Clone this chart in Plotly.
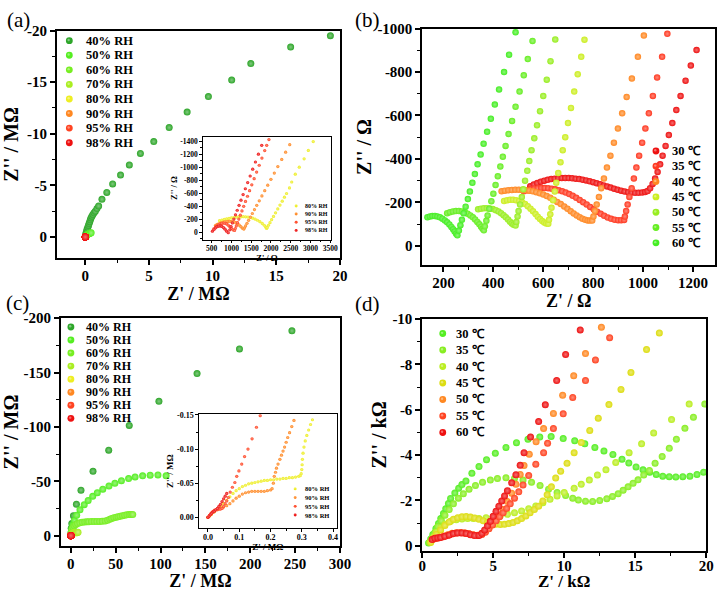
import plotly.graph_objects as go

SERIF = "Liberation Serif"
W, H = 727, 591

# ---------------- DATA ----------------
# Panel (a): Nyquist, MOhm
rh_labels = ["40% RH", "50% RH", "60% RH", "70% RH", "80% RH", "90% RH", "95% RH", "98% RH"]
rh_colors = ["#2ea62a", "#55ee22", "#77ee22", "#aaee22", "#eeee22", "#ff8822", "#ff4422", "#ee1111"]

a40_x = [0.0, 0.03, 0.07, 0.11, 0.15, 0.2, 0.25, 0.3, 0.35, 0.4, 0.45, 0.52, 0.6, 0.69, 0.79, 0.92, 1.05, 1.31, 1.69, 2.15, 2.77, 3.46, 4.33, 5.38, 6.59, 8.0, 9.67, 11.5, 13.0, 16.13, 19.25]
a40_y = [-0.08, -0.25, -0.42, -0.6, -0.78, -0.95, -1.12, -1.3, -1.48, -1.66, -1.85, -2.02, -2.18, -2.34, -2.5, -2.75, -3.0, -3.65, -4.32, -5.14, -6.0, -6.98, -8.1, -9.24, -10.6, -12.1, -13.6, -15.2, -16.8, -18.4, -19.5]
a50_x = [0.0, 0.03, 0.07, 0.12, 0.17, 0.22, 0.27, 0.32, 0.37, 0.42, 0.46]
a50_y = [-0.02, -0.08, -0.14, -0.2, -0.25, -0.29, -0.32, -0.35, -0.37, -0.39, -0.4]
a60_x = [0.0, 0.01, 0.02, 0.04, 0.06, 0.08]
a60_y = [0.0, -0.02, -0.04, -0.05, -0.06, -0.06]
a70_x = [0.0, 0.002, 0.005, 0.008]
a70_y = [0.0, -0.002, -0.003, -0.003]

# Inset of (a): Ohm
ia80_x = [700, 760, 820, 880, 940, 1000, 1060, 1120, 1180, 1240, 1300, 1360, 1420, 1480, 1540, 1600, 1660, 1720, 1780, 1830, 1870, 1890,
          1905, 1937, 1975, 2017, 2064, 2116, 2172, 2228, 2285, 2341, 2394, 2468, 2525, 2615, 2715, 2838, 2944, 3068]
ia80_y = [-180, -190, -200, -208, -215, -222, -228, -233, -237, -240, -241, -240, -236, -229, -219, -205, -187, -165, -138, -110, -80, -60,
          -75, -110, -150, -195, -245, -300, -360, -420, -480, -540, -597, -683, -773, -894, -1000, -1129, -1258, -1393]
ia90_x = [600, 640, 680, 720, 760, 800, 840, 880, 920, 960, 1000, 1040, 1080, 1120, 1160, 1200, 1240, 1280, 1315,
          1332, 1359, 1395, 1435, 1480, 1529, 1583, 1641, 1704, 1771, 1843, 1919, 1999, 2085, 2174, 2273, 2371, 2475]
ia90_y = [-110, -122, -133, -143, -151, -158, -163, -167, -169, -170, -168, -164, -157, -146, -131, -112, -88, -65, -51,
          -70, -100, -140, -185, -235, -290, -350, -415, -485, -560, -640, -725, -815, -910, -1010, -1120, -1230, -1345]
ia95_x = [560, 600, 640, 680, 720, 760, 800, 840, 880, 920, 960, 1000, 1040, 1080,
          1099, 1124, 1155, 1189, 1226, 1267, 1311, 1357, 1407, 1460, 1516, 1575, 1638, 1703, 1772, 1843, 1893, 1949]
ia95_y = [-60, -85, -105, -120, -132, -140, -143, -140, -130, -112, -88, -62, -40, -30,
          -60, -100, -150, -205, -265, -330, -400, -475, -555, -640, -730, -825, -925, -1030, -1140, -1255, -1335, -1424]
ia98_x = [520, 560, 600, 640, 680, 720, 760, 800, 840, 880, 920,
          960, 991, 1025, 1063, 1103, 1147, 1194, 1243, 1296, 1352, 1412, 1474, 1539, 1608, 1683, 1767]
ia98_y = [-20, -45, -70, -88, -98, -100, -92, -75, -50, -20, 5,
          -40, -90, -145, -205, -270, -340, -415, -495, -580, -670, -765, -865, -970, -1080, -1200, -1335]

# Panel (b): temperature series, Ohm
tb_labels = ["30 \u2103", "35 \u2103", "40 \u2103", "45 \u2103", "50 \u2103", "55 \u2103", "60 \u2103"]
tb_colors = ["#ee1111", "#ff3a22", "#ff8822", "#ccee22", "#99ee22", "#66ee22", "#44ee22"]

b30_x = [548, 562, 576, 590, 604, 618, 632, 646, 660, 674, 688, 702, 716, 730, 744, 758, 772, 786, 800, 814, 828, 842, 856, 870, 884, 898,
         912, 926, 940, 954, 968, 982, 996, 1008, 1018, 1028, 1038, 1048, 1058, 1068, 1078, 1090, 1103, 1117, 1133, 1150, 1170, 1191, 1214]
b30_y = [-274, -282, -289, -295, -300, -304, -307, -309, -311, -312, -312, -312, -311, -309, -307, -304, -301, -297, -293, -288, -283, -278,
         -273, -268, -263, -258, -254, -250, -247, -245, -244, -244, -245, -248, -252, -265, -285, -310, -340, -375, -415, -460, -510, -565,
         -625, -690, -760, -830, -901]
b35_x = [522, 536, 550, 564, 578, 592, 606, 620, 634, 648, 662, 676, 690, 704, 718, 732, 746, 760, 774, 788, 802, 816, 830, 844, 858, 872,
         886, 900, 912, 924, 927, 932, 938, 945, 954, 963, 973, 984, 996, 1009, 1023, 1039, 1056, 1076, 1097]
b35_y = [-251, -256, -260, -263, -265, -266, -266, -265, -263, -260, -256, -251, -245, -238, -230, -221, -211, -201, -190, -179, -168, -157,
         -147, -138, -130, -124, -120, -118, -118, -119, -135, -160, -190, -225, -265, -310, -360, -415, -475, -540, -610, -690, -775, -870, -976]
b40_x = [433, 446, 460, 474, 488, 502, 516, 530, 544, 558, 572, 586, 600, 614, 628, 642, 656, 670, 684, 697, 710, 722, 734, 746, 757, 768,
         778, 787, 796, 801, 807, 814, 823, 832, 843, 855, 869, 883, 899, 916, 934, 955, 979, 1003]
b40_y = [-251, -254, -256, -257, -258, -258, -257, -256, -254, -251, -247, -242, -236, -229, -221, -212, -202, -192, -181, -170, -159, -149,
         -140, -132, -125, -120, -117, -116, -116, -135, -160, -190, -225, -265, -310, -360, -415, -475, -540, -610, -685, -770, -870, -968]
b45_x = [443, 455, 467, 479, 491, 503, 515, 527, 538, 549, 559, 569, 578, 587, 596, 604, 612, 620,
         623, 628, 633, 639, 646, 652, 660, 669, 678, 688, 699, 711, 724, 738, 752, 765]
b45_y = [-206, -210, -212, -212, -210, -206, -200, -192, -182, -171, -159, -146, -134, -123, -114, -107, -103, -101,
         -120, -145, -175, -210, -250, -290, -335, -385, -440, -500, -565, -635, -710, -790, -870, -949]
b50_x = [339, 350, 362, 374, 386, 398, 410, 421, 431, 441, 450, 459, 467, 474, 481, 489,
         492, 497, 501, 507, 514, 520, 527, 536, 544, 553, 564, 575, 587, 600, 614, 629, 648]
b50_y = [-168, -171, -173, -173, -172, -169, -164, -158, -150, -141, -131, -121, -111, -103, -97, -93,
         -110, -135, -160, -190, -225, -260, -300, -345, -390, -440, -495, -555, -620, -690, -765, -850, -950]
b55_x = [215, 226, 238, 250, 262, 274, 286, 297, 308, 318, 327, 336, 344, 351, 357, 362,
         366, 372, 377, 384, 392, 400, 409, 418, 428, 438, 449, 461, 475, 489, 505, 522, 538, 557]
b55_y = [-150, -155, -158, -160, -160, -158, -154, -148, -140, -131, -121, -110, -99, -88, -78, -71,
         -90, -115, -140, -170, -205, -240, -280, -320, -365, -410, -460, -515, -575, -640, -710, -785, -860, -943]
b60_x = [136, 146, 156, 166, 176, 186, 196, 206, 215, 224, 232, 239, 245, 251, 256,
         262, 268, 274, 281, 289, 298, 306, 316, 326, 337, 349, 361, 375, 390, 406, 423, 443, 463, 489]
b60_y = [-131, -135, -137, -137, -135, -131, -125, -117, -108, -98, -87, -76, -66, -56, -48,
         -70, -95, -120, -150, -180, -215, -250, -290, -330, -375, -420, -470, -525, -585, -650, -720, -800, -880, -983]

# Panel (c): MOhm
c40_x = [0.0, 0.1, 0.4, 1.1, 2.9, 6.2, 11.3, 24.7, 42.2, 65.1, 98.2, 140.7, 188.0, 246.5]
c40_y = [0.0, -2.5, -6.9, -11.1, -18.3, -28.9, -41.8, -59.2, -78.6, -101.4, -123.5, -149.0, -171.7, -188.3]
c50_x = [0.0, 0.5, 1.2, 2.3, 4.0, 6.5, 10.2, 14.9, 19.3, 24.4, 29.5, 35.6, 42.5, 49.1, 56.4, 64.4, 71.6, 80.0, 88.4, 97.1, 106.2]
c50_y = [0.0, -3.0, -6.5, -10.0, -14.0, -18.8, -23.8, -28.5, -32.4, -36.2, -39.5, -42.7, -45.6, -48.2, -50.5, -52.5, -54.0, -55.0, -55.6, -55.9, -55.0]
c60_x = [0.0, 0.3, 0.8, 1.5, 2.5, 3.8, 5.5, 7.5, 10.0, 12.7, 15.5, 18.0, 20.0, 23.0, 26.0, 29.0, 32.0, 35.0, 38.2, 41.0, 43.5, 45.5,
         48.0, 50.5, 52.7, 55.0, 57.5, 60.0, 62.5, 65.0, 67.0, 69.0]
c60_y = [0.0, -2.0, -4.0, -6.0, -7.8, -9.2, -10.3, -11.2, -11.8, -12.3, -12.6, -12.8, -12.9, -13.0, -13.0, -13.0, -13.1, -13.2, -13.5,
         -14.2, -15.0, -15.9, -16.6, -17.0, -17.4, -17.9, -18.4, -18.9, -19.2, -19.4, -19.5, -19.5]
c70_x = [0.0, 0.5, 1.2, 2.0, 3.0, 4.0, 5.0, 6.0, 7.0, 8.0]
c70_y = [0.0, -0.8, -1.6, -2.2, -2.6, -2.8, -2.8, -2.7, -2.8, -3.2]

# Inset of (c): MOhm
ic80_x = [0.0, 0.005, 0.01, 0.02, 0.03, 0.04, 0.05, 0.06, 0.07, 0.08, 0.09, 0.1, 0.11, 0.12, 0.13, 0.14, 0.15, 0.16, 0.17, 0.18, 0.19,
          0.2, 0.21, 0.22, 0.23, 0.24, 0.25, 0.26, 0.27, 0.28, 0.29, 0.295, 0.298, 0.3, 0.301, 0.302, 0.304, 0.307, 0.311, 0.316, 0.322,
          0.328, 0.334]
ic80_y = [0.0, -0.002, -0.004, -0.008, -0.012, -0.016, -0.02, -0.025, -0.03, -0.035, -0.039, -0.042, -0.045, -0.047, -0.049, -0.05,
          -0.051, -0.052, -0.053, -0.054, -0.054, -0.055, -0.055, -0.056, -0.056, -0.057, -0.057, -0.058, -0.058, -0.059, -0.06, -0.061,
          -0.064, -0.07, -0.077, -0.085, -0.094, -0.103, -0.112, -0.12, -0.128, -0.136, -0.143]
ic90_x = [0.0, 0.01, 0.02, 0.03, 0.04, 0.05, 0.06, 0.07, 0.08, 0.09, 0.1, 0.11, 0.12, 0.13, 0.14, 0.15, 0.16, 0.17, 0.18, 0.19, 0.2,
          0.205, 0.209, 0.212, 0.216, 0.219, 0.224, 0.23, 0.235, 0.24, 0.245, 0.25, 0.255, 0.261, 0.268, 0.275]
ic90_y = [0.0, -0.004, -0.008, -0.011, -0.013, -0.015, -0.017, -0.02, -0.024, -0.028, -0.031, -0.034, -0.036, -0.037, -0.038, -0.038,
          -0.038, -0.038, -0.038, -0.039, -0.04, -0.042, -0.05, -0.06, -0.066, -0.072, -0.078, -0.085, -0.091, -0.097, -0.103, -0.11,
          -0.117, -0.124, -0.133, -0.142]
ic95_x = [0.0, 0.005, 0.01, 0.015, 0.02, 0.025, 0.03, 0.035, 0.04, 0.045, 0.05, 0.055, 0.06, 0.065, 0.071, 0.078, 0.086, 0.092,
          0.099, 0.108, 0.117, 0.128, 0.141, 0.155, 0.167]
ic95_y = [0.0, -0.003, -0.006, -0.008, -0.01, -0.011, -0.012, -0.012, -0.012, -0.013, -0.016, -0.02, -0.024, -0.029, -0.037, -0.044,
          -0.051, -0.06, -0.068, -0.078, -0.089, -0.1, -0.115, -0.132, -0.149]
ic98_x = [0.0, 0.004, 0.008, 0.012, 0.016, 0.02, 0.025, 0.03, 0.035, 0.04, 0.045, 0.05, 0.055, 0.06]
ic98_y = [0.0, -0.002, -0.004, -0.006, -0.008, -0.009, -0.011, -0.013, -0.016, -0.019, -0.023, -0.027, -0.031, -0.035]

# Panel (d): kOhm
td_labels = ["30 \u2103", "35 \u2103", "40 \u2103", "45 \u2103", "50 \u2103", "55 \u2103", "60 \u2103"]
td_colors = ["#55ee22", "#88ee22", "#bbee22", "#dddd11", "#ff8822", "#ff4422", "#ee1111"]

d30_x = [0.45, 0.6, 0.75, 0.97, 1.15, 1.31, 1.5, 1.66, 1.85, 2.0, 2.3, 2.57, 2.8, 3.08, 3.5, 4.0, 4.53, 5.15, 5.9, 6.64, 7.45, 8.28,
         9.08, 9.93, 10.74, 11.45, 12.16, 12.8, 13.43, 14.07, 14.55, 15.06, 15.55, 16.02, 16.48, 16.94, 17.4, 17.86, 18.35, 18.85, 19.35, 19.82]
d30_y = [-0.12, -0.3, -0.5, -0.76, -0.98, -1.2, -1.42, -1.63, -1.87, -2.09, -2.33, -2.54, -2.7, -2.86, -3.2, -3.5, -3.8, -4.08, -4.34,
         -4.55, -4.7, -4.8, -4.82, -4.73, -4.63, -4.5, -4.34, -4.18, -4.03, -3.82, -3.65, -3.48, -3.35, -3.25, -3.15, -3.07, -3.05, -3.04,
         -3.05, -3.07, -3.15, -3.25]
d35_x = [0.5, 0.7, 0.9, 1.1, 1.35, 1.6, 1.9, 2.2, 2.55, 2.9, 3.3, 3.75, 4.25, 4.8, 5.3, 5.9, 6.5, 7.1, 7.7, 8.3, 8.9, 9.5, 10.1, 10.6,
         11.0, 11.5, 12.0, 12.5, 13.0, 13.4, 13.8, 14.15, 14.5, 14.85, 15.2, 15.6, 16.0, 16.4, 16.9, 17.4, 17.9, 18.5, 19.1, 19.9]
d35_y = [-0.15, -0.35, -0.6, -0.85, -1.1, -1.35, -1.6, -1.85, -2.1, -2.3, -2.5, -2.66, -2.8, -2.9, -2.97, -3.0, -2.97, -2.9, -2.8,
         -2.66, -2.5, -2.35, -2.22, -2.1, -2.02, -1.97, -1.96, -2.0, -2.08, -2.18, -2.3, -2.45, -2.6, -2.76, -2.91, -3.12, -3.32, -3.64,
         -3.94, -4.3, -4.7, -5.18, -5.67, -6.25]
d40_x = [0.6, 0.8, 1.0, 1.3, 1.6, 2.0, 2.4, 2.8, 3.2, 3.6, 4.0, 4.5, 5.0, 5.5, 6.0, 6.5, 7.0, 7.5, 8.0, 8.5, 9.0, 9.5, 10.0, 10.7,
         11.2, 11.77, 12.34, 12.94, 13.63, 14.57, 15.45, 16.3, 17.56, 18.8]
d40_y = [-0.2, -0.4, -0.6, -0.8, -0.95, -1.08, -1.15, -1.18, -1.2, -1.2, -1.21, -1.24, -1.28, -1.33, -1.39, -1.46, -1.54, -1.64,
         -1.76, -1.9, -2.05, -2.2, -2.35, -2.54, -2.71, -2.9, -3.12, -3.36, -3.68, -4.11, -4.5, -4.98, -5.57, -6.25]
d45_x = [0.6, 0.8, 1.0, 1.3, 1.6, 1.9, 2.2, 2.5, 2.8, 3.1, 3.4, 3.7, 4.0, 4.3, 4.6, 4.9, 5.2, 5.5, 5.8, 6.1, 6.4, 6.7, 7.0, 7.3, 7.6,
         7.9, 8.2, 8.5, 8.8, 9.1, 9.4, 9.75, 10.2, 10.7, 11.2, 11.8, 12.4, 13.15, 14.0, 14.7, 15.8, 16.7]
d45_y = [-0.15, -0.3, -0.5, -0.7, -0.9, -1.05, -1.17, -1.24, -1.28, -1.29, -1.27, -1.23, -1.17, -1.1, -1.03, -0.98, -0.95, -0.94,
         -0.95, -0.98, -1.03, -1.1, -1.2, -1.32, -1.46, -1.6, -1.75, -1.98, -2.25, -2.6, -2.99, -3.29, -3.64, -4.11, -4.56, -5.09, -5.63,
         -6.23, -6.9, -7.65, -8.66, -9.39]
d50_x = [0.75, 1.0, 1.25, 1.5, 1.8, 2.1, 2.4, 2.7, 3.0, 3.3, 3.6, 3.9, 4.2, 4.45, 4.7, 4.95, 5.2, 5.45, 5.7, 6.0, 6.3, 6.6, 6.9, 7.17,
         7.54, 8.02, 8.55, 9.24, 9.89, 10.67, 11.5, 12.62]
d50_y = [-0.3, -0.34, -0.38, -0.43, -0.49, -0.55, -0.58, -0.59, -0.57, -0.53, -0.49, -0.47, -0.52, -0.63, -0.78, -0.95, -1.13, -1.35,
         -1.6, -1.95, -2.32, -2.72, -3.15, -3.54, -4.04, -4.59, -5.17, -5.84, -6.64, -7.5, -8.48, -9.64]
d55_x = [0.8, 1.0, 1.2, 1.5, 1.8, 2.1, 2.4, 2.7, 3.0, 3.3, 3.6, 3.9, 4.2, 4.45, 4.7, 4.95, 5.2, 5.45, 5.7, 5.95, 6.2, 6.5, 6.8, 7.1,
         7.5, 8.0, 8.55, 8.83, 9.24, 9.93, 10.6, 11.5, 12.2, 13.2]
d55_y = [-0.3, -0.33, -0.36, -0.4, -0.46, -0.52, -0.56, -0.58, -0.57, -0.53, -0.48, -0.46, -0.5, -0.6, -0.75, -0.92, -1.1, -1.28,
         -1.46, -1.65, -1.85, -2.1, -2.38, -2.68, -3.1, -3.6, -4.11, -4.52, -5.17, -5.82, -6.54, -7.29, -8.2, -9.18]
d60_x = [0.7, 0.9, 1.1, 1.3, 1.6, 1.9, 2.2, 2.5, 2.8, 3.1, 3.4, 3.7, 4.0, 4.2, 4.4, 4.6, 4.8, 5.0, 5.2, 5.4, 5.6, 5.8, 6.0, 6.3,
         6.6, 6.9, 7.17, 7.63, 8.2, 8.67, 9.47, 10.1, 11.13]
d60_y = [-0.28, -0.33, -0.35, -0.37, -0.42, -0.48, -0.54, -0.57, -0.57, -0.54, -0.49, -0.45, -0.46, -0.55, -0.7, -0.88, -1.08, -1.3,
         -1.52, -1.75, -1.98, -2.2, -2.43, -2.78, -3.13, -3.55, -4.11, -4.8, -5.48, -6.22, -7.29, -8.44, -9.52]

# Tick values / labels
a_xt = [0, 5, 10, 15, 20]
a_yt = [0, -5, -10, -15, -20]
b_xt = [200, 400, 600, 800, 1000, 1200]
b_yt = [0, -200, -400, -600, -800, -1000]
c_xt = [0, 50, 100, 150, 200, 250, 300]
c_yt = [0, -50, -100, -150, -200]
d_xt = [0, 5, 10, 15, 20]
d_yt = [0, -2, -4, -6, -8, -10]
ia_xt = [500, 1000, 1500, 2000, 2500, 3000, 3500]
ia_yt = [0, -200, -400, -600, -800, -1000, -1200, -1400]
ic_xt = [0.0, 0.1, 0.2, 0.3, 0.4]
ic_xl = ["0.0", "0.1", "0.2", "0.3", "0.4"]
ic_yt = [0.0, -0.05, -0.10, -0.15]
ic_yl = ["0.00", "-0.05", "-0.10", "-0.15"]

# ---------------- FIGURE ----------------
def lighten(hexc, f=0.65):
    r, g, b = int(hexc[1:3], 16), int(hexc[3:5], 16), int(hexc[5:7], 16)
    r, g, b = [int(v + (255 - v) * f) for v in (r, g, b)]
    return "#%02x%02x%02x" % (r, g, b)

fig = go.Figure()

def add(xs, ys, color, xa, ya, size=7, scale=1.0):
    fig.add_trace(go.Scatter(
        x=[v * scale for v in xs], y=[v * scale for v in ys], mode="markers", xaxis=xa, yaxis=ya, showlegend=False,
        marker=dict(size=size, color=color, line=dict(width=0),
                    gradient=dict(type="radial", color=lighten(color, 0.4)))))

# panel a
a_series = [(a40_x, a40_y, 1.0), (a50_x, a50_y, 1.0), (a60_x, a60_y, 1.0), (a70_x, a70_y, 1.0),
            (ia80_x, ia80_y, 1e-6), (ia90_x, ia90_y, 1e-6), (ia95_x, ia95_y, 1e-6), (ia98_x, ia98_y, 1e-6)]
for (xs, ys, s), col in zip(a_series, rh_colors):
    add(xs, ys, col, "x", "y", 7, s)
# inset a
for (xs, ys), col in zip([(ia80_x, ia80_y), (ia90_x, ia90_y), (ia95_x, ia95_y), (ia98_x, ia98_y)], rh_colors[4:]):
    add(xs, ys, col, "x5", "y5", 3.2)
# panel b
for (xs, ys), col in zip([(b30_x, b30_y), (b35_x, b35_y), (b40_x, b40_y), (b45_x, b45_y), (b50_x, b50_y), (b55_x, b55_y), (b60_x, b60_y)], tb_colors):
    add(xs, ys, col, "x2", "y2", 6.5)
# panel c
c_series = [(c40_x, c40_y), (c50_x, c50_y), (c60_x, c60_y), (c70_x, c70_y), (ic80_x, ic80_y), (ic90_x, ic90_y), (ic95_x, ic95_y), (ic98_x, ic98_y)]
for (xs, ys), col in zip(c_series, rh_colors):
    add(xs, ys, col, "x3", "y3", 7)
for (xs, ys), col in zip(c_series[4:], rh_colors[4:]):
    add(xs, ys, col, "x6", "y6", 3.2)
# panel d
for (xs, ys), col in zip([(d30_x, d30_y), (d35_x, d35_y), (d40_x, d40_y), (d45_x, d45_y), (d50_x, d50_y), (d55_x, d55_y), (d60_x, d60_y)], td_colors):
    add(xs, ys, col, "x4", "y4", 7)

def dom_x(l, r):
    return [l / W, r / W]

def dom_y(t, b):
    return [1 - b / H, 1 - t / H]

def axis(domain, rng, tv, tl, title, anchor, fs=15, tfs=18, small=False, standoff=2, mdt=None, tls=0):
    d = dict(domain=domain, range=rng, tickvals=tv, ticktext=tl, anchor=anchor,
             showline=True, linecolor="black", linewidth=1.3 if small else 1.6, mirror=True,
             ticks="outside", ticklen=2.5 if small else 5, tickwidth=1 if small else 1.5, tickcolor="black",
             showgrid=False, zeroline=False, ticklabelstandoff=tls,
             tickfont=dict(family=SERIF, size=fs, color="black", weight="bold"),
             title=dict(text=title, font=dict(family=SERIF, size=tfs, color="black", weight="bold"), standoff=standoff))
    if mdt is not None:
        d["minor"] = dict(dtick=mdt, tick0=0, ticks="outside", ticklen=1.5 if small else 3, tickwidth=1, tickcolor="black")
    return d

def lbl(v):
    return [str(x) for x in v]

fig.update_layout(
    width=W, height=H, autosize=False, margin=dict(l=0, r=0, t=0, b=0),
    paper_bgcolor="white", plot_bgcolor="rgba(0,0,0,0)",
    xaxis=axis(dom_x(54, 343), [-2.23, 20], a_xt, lbl(a_xt), "Z' / M\u03a9", "y", mdt=2.5, tls=-2),
    yaxis=axis(dom_y(23, 255), [2.06, -20], a_yt, lbl(a_yt), "Z'' / M\u03a9", "x", tfs=20, mdt=2.5, standoff=4),
    xaxis2=axis(dom_x(427, 726), [115, 1288], b_xt, lbl(b_xt), "Z' / \u03a9", "y2", mdt=100, tls=-2),
    yaxis2=axis(dom_y(21, 262), [89, -1000], b_yt, lbl(b_yt), "Z'' / \u03a9", "x2", tfs=20, mdt=100, standoff=0),
    xaxis3=axis(dom_x(58, 343), [-11.2, 300], c_xt, lbl(c_xt), "Z' / M\u03a9", "y3", mdt=25, tls=-2),
    yaxis3=axis(dom_y(316, 548), [9.3, -200], c_yt, lbl(c_yt), "Z'' / M\u03a9", "x3", tfs=20, mdt=25, standoff=0),
    xaxis4=axis(dom_x(427, 717), [0, 20], d_xt, lbl(d_xt), "Z' / k\u03a9", "y4", tfs=17, mdt=2.5, tls=-5, standoff=2),
    yaxis4=axis(dom_y(317, 553), [0.216, -10], d_yt, lbl(d_yt), "Z'' / k\u03a9", "x4", tfs=20, mdt=1, standoff=0),
    xaxis5=axis(dom_x(203, 334), [278, 3520], ia_xt, lbl(ia_xt), "Z' / \u03a9", "y5", fs=7.5, tfs=8.5, small=True, standoff=0, mdt=250, tls=-1),
    yaxis5=axis(dom_y(131, 236), [110, -1470], ia_yt, lbl(ia_yt), "Z'' / \u03a9", "x5", fs=7.5, tfs=8.5, small=True, standoff=1, mdt=100),
    xaxis6=axis(dom_x(199, 340), [-0.029, 0.4125], ic_xt, ic_xl, "Z' / M\u03a9", "y6", fs=8, tfs=9, small=True, standoff=0, mdt=0.05, tls=-1),
    yaxis6=axis(dom_y(414, 530), [0.0159, -0.151], ic_yt, ic_yl, "Z'' / M\u03a9", "x6", fs=8, tfs=9, small=True, standoff=1, mdt=0.025),
)

shapes = []
annotations = []

# white background for insets
for (l, t, r, b) in [(203, 131, 334, 236), (199, 414, 340, 530)]:
    shapes.append(dict(type="rect", xref="paper", yref="paper", x0=l / W, x1=r / W, y0=1 - b / H, y1=1 - t / H,
                       fillcolor="white", line=dict(width=0), layer="below"))

def legend(labels, colors, mx, tx, y0, dy, fs, r):
    for i, (lab, col) in enumerate(zip(labels, colors)):
        cy = y0 + i * dy
        shapes.append(dict(type="circle", xref="paper", yref="paper",
                           x0=(mx - r) / W, x1=(mx + r) / W, y0=1 - (cy + r) / H, y1=1 - (cy - r) / H,
                           fillcolor=col, line=dict(width=0), layer="above"))
        shapes.append(dict(type="circle", xref="paper", yref="paper",
                           x0=(mx - r * 0.55) / W, x1=(mx + r * 0.15) / W, y0=1 - (cy + r * 0.15) / H, y1=1 - (cy - r * 0.55) / H,
                           fillcolor=lighten(col, 0.4), line=dict(width=0), layer="above"))
        annotations.append(dict(text=lab, xref="paper", yref="paper", x=tx / W, y=1 - cy / H, xanchor="left", yanchor="middle",
                                showarrow=False, font=dict(family=SERIF, size=fs, color="black", weight="bold")))

legend(rh_labels, rh_colors, 66.7, 81.5, 33.3, 14.85, 12.5, 3.5)
legend(rh_labels, rh_colors, 68.3, 81.5, 325, 13.3, 12, 3.5)
legend(tb_labels, tb_colors, 665.7, 680.5, 145.7, 15.6, 12.5, 3.5)
legend(td_labels, td_colors, 448, 459, 331.7, 16.8, 12.5, 3.5)
legend(rh_labels[4:], rh_colors[4:], 298.3, 305.5, 201.7, 8.3, 6, 1.5)
legend(rh_labels[4:], rh_colors[4:], 297.3, 305.5, 490, 8.9, 6.5, 1.5)

for txt, x, y in [("(a)", 1, 12.5), ("(b)", 356, 12.5), ("(c)", 0, 301), ("(d)", 356, 302)]:
    annotations.append(dict(text=txt, xref="paper", yref="paper", x=x / W, y=1 - y / H, xanchor="left", yanchor="middle",
                            showarrow=False, font=dict(family=SERIF, size=21, color="black")))

fig.update_layout(shapes=shapes, annotations=annotations)
fig.write_html("out.html", config={"responsive": False, "displayModeBar": False},
               post_script="document.body.style.margin='0';document.body.style.overflow='hidden';")
